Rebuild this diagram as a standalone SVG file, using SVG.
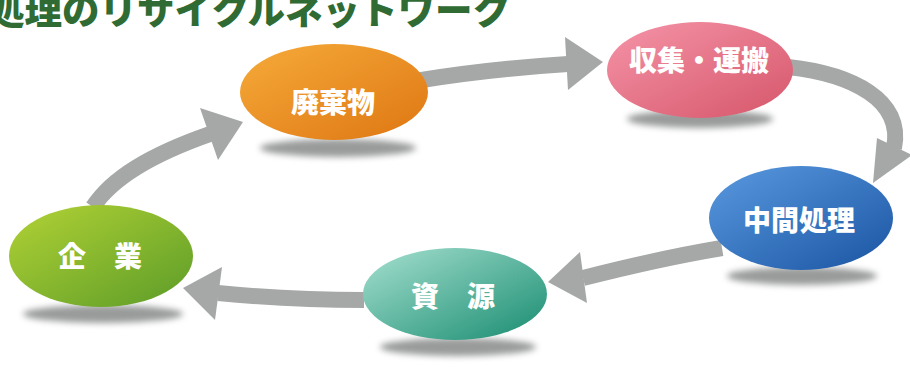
<svg xmlns="http://www.w3.org/2000/svg" width="910" height="367" viewBox="0 0 910 367">
  <defs>
    <filter id="blur" x="-30%" y="-100%" width="160%" height="300%">
      <feGaussianBlur stdDeviation="3"/>
    </filter>
    <linearGradient id="gOrange" x1="0" y1="0" x2="1" y2="1">
      <stop offset="0" stop-color="#f6ab3a"/>
      <stop offset="1" stop-color="#de7612"/>
    </linearGradient>
    <linearGradient id="gPink" x1="0" y1="0" x2="1" y2="1">
      <stop offset="0" stop-color="#f594a8"/>
      <stop offset="1" stop-color="#d6566a"/>
    </linearGradient>
    <linearGradient id="gBlue" x1="0" y1="0" x2="1" y2="1">
      <stop offset="0" stop-color="#5a9ae0"/>
      <stop offset="1" stop-color="#1a54a2"/>
    </linearGradient>
    <linearGradient id="gGreen" x1="0" y1="0" x2="1" y2="1">
      <stop offset="0" stop-color="#b2d235"/>
      <stop offset="1" stop-color="#5c9c28"/>
    </linearGradient>
    <linearGradient id="gTeal" x1="0" y1="0" x2="1" y2="1">
      <stop offset="0" stop-color="#a6e0d0"/>
      <stop offset="1" stop-color="#188c70"/>
    </linearGradient>
  </defs>
  <style>
    .title { font-family: "Noto Sans CJK JP", "Noto Sans CJK SC", sans-serif; font-weight: 900; font-size: 37.5px; fill: #2f6b33; }
    .label { font-family: "Noto Sans CJK JP", "Noto Sans CJK SC", sans-serif; font-weight: 900; font-size: 28px; fill: #ffffff; text-anchor: middle; }
    .shadow { fill: #808282; opacity: 0.8; filter: url(#blur); }
    .shaft { fill: none; stroke: #a5a8a7; stroke-width: 16; }
    .head { fill: #a5a8a7; }
  </style>
  <rect width="910" height="367" fill="#ffffff"/>

  <text class="title" x="-13" y="24">処理のリサイクルネットワーク</text>

  <g id="connectors">
    <!-- 企業 -> 廃棄物 -->
    <path class="shaft" d="M93,207 C112,178 150,155 210,134"/>
    <polygon class="head" points="200,108 243,122 218,160"/>
    <!-- 廃棄物 -> 収集・運搬 -->
    <path class="shaft" d="M415,81 C470,72 520,67 568,64"/>
    <polygon class="head" points="565,37 603,62 568,90"/>
    <!-- 収集・運搬 -> 中間処理 -->
    <path class="shaft" d="M788,67 C852,74 904,100 894,148"/>
    <polygon class="head" points="877,138 912,155 873,183"/>
    <!-- 中間処理 -> 資源 -->
    <path class="shaft" d="M722,248 C680,255 630,266 583,278"/>
    <polygon class="head" points="580,252 548,282 587,303"/>
    <!-- 資源 -> 企業 -->
    <path class="shaft" d="M364,300 C300,300 260,297 218,293"/>
    <polygon class="head" points="222,267 183,288 215,320"/>
  </g>

  <g id="node-haikibutsu">
    <ellipse class="shadow" cx="338" cy="148" rx="78" ry="9"/>
    <ellipse cx="334" cy="92" rx="94" ry="48" fill="url(#gOrange)"/>
    <text class="label" x="333" y="113">廃棄物</text>
  </g>

  <g id="node-shushu">
    <ellipse class="shadow" cx="700" cy="119" rx="73" ry="9"/>
    <ellipse cx="700" cy="70" rx="93" ry="48" fill="url(#gPink)"/>
    <text class="label" x="699" y="71">収集・運搬</text>
  </g>

  <g id="node-chukan">
    <ellipse class="shadow" cx="802" cy="276" rx="75" ry="9"/>
    <ellipse cx="801" cy="218" rx="92" ry="52" fill="url(#gBlue)"/>
    <text class="label" x="799" y="231">中間処理</text>
  </g>

  <g id="node-kigyo">
    <ellipse class="shadow" cx="103" cy="314" rx="80" ry="9"/>
    <ellipse cx="101" cy="256" rx="92" ry="51" fill="url(#gGreen)"/>
    <text class="label" x="100" y="267">企　業</text>
  </g>

  <g id="node-shigen">
    <ellipse class="shadow" cx="458" cy="347" rx="78" ry="9"/>
    <ellipse cx="455" cy="294" rx="92" ry="46" fill="url(#gTeal)"/>
    <text class="label" x="453" y="307">資　源</text>
  </g>
</svg>
